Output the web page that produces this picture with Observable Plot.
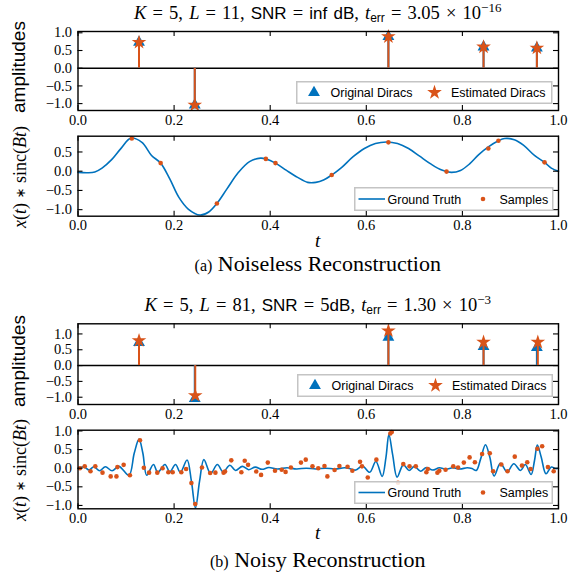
<!DOCTYPE html>
<html><head><meta charset="utf-8">
<script src="https://cdn.jsdelivr.net/npm/d3@7"></script>
<script src="https://cdn.jsdelivr.net/npm/@observablehq/plot@0.6"></script>
<style>
body{margin:0;background:#fff;}
#c{position:relative;width:584px;height:574px;overflow:hidden;background:#fff;}
.panel{position:absolute;left:0;}
.ttl{position:absolute;left:77.5px;width:480.5px;text-align:center;white-space:nowrap;font-family:"Liberation Serif";font-size:18.5px;line-height:20px;color:#000;word-spacing:1.5px;}
.sans{font-family:"Liberation Sans";font-size:17px;}
.ttl sub{font-family:"Liberation Sans";font-size:12px;vertical-align:-3px;line-height:0;}
.ttl sup{font-size:13px;vertical-align:7px;line-height:0;}
.ylab{position:absolute;transform:translate(-50%,-50%) rotate(-90deg);white-space:nowrap;color:#000;line-height:20px;}
.ylab.a{font-family:"Liberation Sans";font-size:19px;}
.ylab.m{font-family:"Liberation Serif";font-size:18px;}
.ylab.m .op{font-family:"DejaVu Sans";font-size:13px;vertical-align:1px;}
.xlab{position:absolute;left:77.5px;width:480.5px;text-align:center;font-family:"Liberation Serif";font-style:italic;font-size:19px;line-height:20px;}
.cap{position:absolute;left:77.5px;width:480.5px;text-align:center;font-family:"Liberation Serif";font-size:22px;line-height:26px;white-space:nowrap;}
.cap small{font-size:16px;}
.leg{position:absolute;}
</style>
</head><body>
<div id="c"></div>
<script>
// ---------- data ----------
const xTicks = [0, 0.2, 0.4, 0.6, 0.8, 1.0];
const yTicksA1 = [-1, -0.5, 0, 0.5, 1];
const yTicksA2 = [-1, -0.5, 0, 0.5];
const yTicksB1 = [-1, -0.5, 0, 0.5, 1];
const yTicksB2 = [-1, -0.5, 0, 0.5, 1];

// Dirac locations and amplitudes
const diracT   = [0.127, 0.243, 0.646, 0.844, 0.955];
const origAmp  = [0.73, -1.04, 0.89, 0.60, 0.57];
// (a) noiseless estimate
const estTA    = [0.127, 0.243, 0.646, 0.844, 0.955];
const estAmpA  = [0.73, -1.04, 0.89, 0.60, 0.57];
// (b) noisy estimate
const estTB    = [0.127, 0.244, 0.646, 0.844, 0.957];
const estAmpB  = [0.79, -0.95, 1.10, 0.74, 0.74];

// (a) samples (L = 11)
const sampTA = [0.112, 0.172, 0.289, 0.391, 0.411, 0.528, 0.646, 0.767, 0.854, 0.875, 0.971];
const sampVA = [0.85, 0.21, -0.84, 0.32, 0.21, -0.10, 0.75, -0.01, 0.59, 0.79, 0.23];

// (a) ground truth curve
const curveTA = [0.000,0.020,0.035,0.050,0.070,0.090,0.110,0.133,0.153,0.172,0.191,0.210,0.230,0.254,0.272,0.289,0.310,0.334,0.357,0.380,0.391,0.411,0.434,0.457,0.478,0.495,0.511,0.528,0.549,0.572,0.596,0.619,0.642,0.665,0.688,0.711,0.734,0.757,0.777,0.796,0.815,0.834,0.854,0.875,0.888,0.908,0.927,0.950,0.971,0.985,1.000];
const curveVA = [-0.03,-0.04,-0.02,0.08,0.30,0.60,0.86,0.75,0.41,0.21,-0.20,-0.68,-0.99,-1.14,-1.06,-0.84,-0.46,-0.03,0.25,0.34,0.32,0.21,0.02,-0.16,-0.29,-0.29,-0.23,-0.10,0.10,0.37,0.59,0.72,0.76,0.72,0.59,0.39,0.19,0.03,-0.03,0.02,0.19,0.43,0.63,0.79,0.85,0.82,0.68,0.41,0.23,0.08,0.00];

// (b) samples (L = 81)
const sampTB = [0.004,0.014,0.026,0.036,0.051,0.068,0.080,0.082,0.095,0.108,0.129,0.137,0.148,0.165,0.176,0.188,0.197,0.215,0.225,0.236,0.244,0.258,0.275,0.286,0.303,0.306,0.319,0.340,0.347,0.354,0.371,0.381,0.395,0.410,0.424,0.432,0.443,0.464,0.474,0.488,0.500,0.513,0.519,0.534,0.544,0.561,0.571,0.587,0.591,0.603,0.621,0.650,0.653,0.666,0.677,0.690,0.703,0.725,0.728,0.748,0.752,0.765,0.781,0.791,0.803,0.815,0.826,0.841,0.857,0.864,0.881,0.894,0.909,0.924,0.935,0.942,0.956,0.966,0.978,0.990];
const sampVB = [0.00,0.05,-0.08,0.05,-0.12,-0.22,-0.22,0.03,0.09,-0.19,0.75,0.01,-0.12,-0.12,0.00,-0.11,-0.11,-0.11,-0.02,-0.40,-0.96,0.02,-0.13,-0.12,-0.12,-0.09,0.21,-0.11,0.20,0.09,-0.09,-0.18,0.15,-0.07,-0.04,-0.10,0.02,0.15,0.23,0.05,0.00,0.06,-0.22,-0.05,0.06,0.04,-0.07,0.17,0.05,-0.25,0.23,0.93,0.97,-0.39,0.11,0.05,0.05,-0.11,-0.02,-0.12,-0.07,-0.04,0.05,0.02,0.15,0.29,0.16,0.38,0.40,-0.08,0.10,-0.08,0.31,0.07,0.16,-0.02,0.52,0.59,0.03,-0.08];

// (b) ground truth curve
const curveTB = [0.000,0.012,0.023,0.033,0.045,0.057,0.071,0.085,0.106,0.117,0.127,0.135,0.143,0.157,0.166,0.181,0.191,0.203,0.213,0.227,0.236,0.2445,0.253,0.262,0.276,0.290,0.302,0.316,0.328,0.342,0.355,0.369,0.383,0.397,0.415,0.435,0.455,0.475,0.495,0.515,0.535,0.555,0.568,0.578,0.592,0.607,0.620,0.633,0.641,0.647,0.655,0.664,0.677,0.689,0.700,0.713,0.725,0.738,0.752,0.766,0.780,0.795,0.810,0.820,0.829,0.838,0.848,0.857,0.866,0.879,0.893,0.907,0.921,0.931,0.943,0.950,0.956,0.964,0.974,0.985,0.994,1.000];
const curveVB = [-0.01,0.04,-0.05,0.04,-0.07,0.04,-0.07,0.05,-0.19,0.40,0.78,0.40,-0.19,0.10,-0.11,0.10,-0.10,0.10,-0.11,0.22,-0.35,-1.07,-0.35,0.23,-0.14,0.10,-0.10,0.08,-0.06,0.05,-0.04,0.03,-0.03,0.02,-0.02,0.01,-0.02,0.00,-0.02,0.00,-0.02,0.01,-0.02,-0.05,0.06,-0.11,0.18,-0.22,0.30,0.90,0.35,-0.24,0.09,-0.06,0.05,-0.08,0.02,-0.05,0.01,-0.03,0.01,-0.02,0.01,-0.01,-0.06,0.25,0.63,0.30,-0.21,0.13,-0.10,0.12,-0.06,0.10,-0.17,0.20,0.62,0.30,-0.15,0.03,-0.01,0.00];

// ---------- build tables ----------
const zip = (ts, vs) => ts.map((t, i) => ({t, v: vs[i]}));
const origTbl = zip(diracT, origAmp);
const estTblA = zip(estTA, estAmpA);
const estTblB = zip(estTB, estAmpB);
const sampA = zip(sampTA, sampVA), sampB = zip(sampTB, sampVB);
const curveA = zip(curveTA, curveVA), curveB = zip(curveTB, curveVB);

const BLUE = "#0072BD", ORANGE = "#D95319";
const ML = 77.5, MR = 26, W = 584;
const root = document.getElementById("c");

function panel(cfg) {
  const fw = W - ML - MR, fh = cfg.H - cfg.mt - cfg.mb;
  const fmt = d3.format(".1f");
  const tk = {stroke: "black", strokeWidth: 1.1};
  const svg = Plot.plot({
    width: W, height: cfg.H,
    marginLeft: ML, marginRight: MR, marginTop: cfg.mt, marginBottom: cfg.mb,
    x: {domain: [0, 1]},
    y: {domain: cfg.ydom},
    style: {background: "transparent", overflow: "visible", fontFamily: "Liberation Serif", fontSize: "14.5px", color: "black"},
    marks: [
      ...cfg.marks,
      Plot.tickX(xTicks, {x: d => d, ...tk, insetBottom: fh - 5}),
      Plot.tickX(xTicks, {x: d => d, ...tk, insetTop: fh - 5}),
      Plot.tickY(cfg.yticks, {y: d => d, ...tk, insetRight: fw - 5}),
      Plot.tickY(cfg.yticks, {y: d => d, ...tk, insetLeft: fw - 5}),
      Plot.axisX({ticks: xTicks, tickSize: 0, tickPadding: 4, tickFormat: fmt, label: null}),
      Plot.axisY({ticks: cfg.yticks, tickSize: 0, tickPadding: 6, tickFormat: fmt, label: null}),
      Plot.frame({stroke: "black", strokeWidth: 1.4})
    ]
  });
  svg.classList.add("panel");
  svg.style.position = "absolute";
  svg.style.top = cfg.top + "px";
  svg.style.left = "0px";
  root.appendChild(svg);
}

function stemMarks(est) {
  return [
    Plot.ruleY([0], {stroke: "black", strokeWidth: 1.4}),
    Plot.ruleX(origTbl, {x: "t", y1: 0, y2: "v", stroke: BLUE, strokeWidth: 2}),
    Plot.dot(origTbl, {x: "t", y: "v", symbol: "triangle", fill: BLUE, r: 4.4}),
    Plot.ruleX(est, {x: "t", y1: 0, y2: "v", stroke: ORANGE, strokeWidth: 2}),
    Plot.dot(est, {x: "t", y: "v", symbol: "star", fill: ORANGE, r: 4.6})
  ];
}
function curveMarks(curve, samp) {
  return [
    Plot.line(curve, {x: "t", y: "v", stroke: BLUE, strokeWidth: 1.6, curve: "catmull-rom"}),
    Plot.dot(samp, {x: "t", y: "v", fill: ORANGE, r: 2.3})
  ];
}

panel({top: 20, H: 115, mt: 11, mb: 25, ydom: [-1.195, 1.037], yticks: yTicksA1, marks: stemMarks(estTblA)});
panel({top: 130, H: 108, mt: 5.7, mb: 22.3, ydom: [-1.17, 0.91], yticks: yTicksA2, marks: curveMarks(curveA, sampA)});
panel({top: 318, H: 108, mt: 5.3, mb: 22, ydom: [-1.23, 1.32], yticks: yTicksB1, marks: stemMarks(estTblB)});
panel({top: 424, H: 106.3, mt: 5.7, mb: 22, ydom: [-1.09, 1.02], yticks: yTicksB2, marks: curveMarks(curveB, sampB)});

// ---------- legends ----------
const triPath = d3.symbol(d3.symbolTriangle, 4.4 * 4.4 * Math.PI)();
const starPath = d3.symbol(d3.symbolStar, 4.6 * 4.6 * Math.PI)();
function legendBox(left, top, w, h, inner) {
  const d = document.createElement("div");
  d.className = "leg";
  d.style.left = left + "px"; d.style.top = top + "px";
  d.innerHTML = `<svg width="${w}" height="${h}" style="display:block;overflow:visible">
    <rect x="0.75" y="0.75" width="${w - 1.5}" height="${h - 1.5}" fill="rgba(255,255,255,0.85)" stroke="#c4c4c4" stroke-width="1.5"/>
    <g font-family="Liberation Sans" font-size="12.5" fill="#000">${inner(h / 2)}</g></svg>`;
  root.appendChild(d);
}
const diracLegend = cy => `
  <path d="${triPath}" transform="translate(18,${cy})" fill="${BLUE}"/>
  <text x="34.5" y="${cy}" dy="0.36em">Original Diracs</text>
  <path d="${starPath}" transform="translate(138.5,${cy})" fill="${ORANGE}"/>
  <text x="155" y="${cy}" dy="0.36em">Estimated Diracs</text>`;
const sampLegend = cy => `
  <line x1="4.5" x2="31" y1="${cy}" y2="${cy}" stroke="${BLUE}" stroke-width="1.6"/>
  <text x="33.5" y="${cy}" dy="0.36em">Ground Truth</text>
  <circle cx="129" cy="${cy}" r="2.3" fill="${ORANGE}"/>
  <text x="145.5" y="${cy}" dy="0.36em">Samples</text>`;
legendBox(296, 81, 256.5, 23, diracLegend);
legendBox(353.5, 187, 199.5, 24, sampLegend);
legendBox(297, 374, 256, 23, diracLegend);
legendBox(354, 480.5, 199, 23, sampLegend);

// ---------- text ----------
function add(html) { root.insertAdjacentHTML("beforeend", html); }
add(`<div class="ttl" style="top:3px"><i>K</i> = 5, <i>L</i> = 11, <span class="sans">SNR</span> = <span class="sans">inf dB</span>, <i>t</i><sub>err</sub> = 3.05 × 10<sup>−16</sup></div>`);
add(`<div class="ttl" style="top:295px"><i>K</i> = 5, <i>L</i> = 81, <span class="sans">SNR</span> = 5<span class="sans">dB</span>, <i>t</i><sub>err</sub> = 1.30 × 10<sup>−3</sup></div>`);
add(`<div class="ylab a" style="left:19px;top:67px">amplitudes</div>`);
add(`<div class="ylab a" style="left:19px;top:361px">amplitudes</div>`);
add(`<div class="ylab m" style="left:20px;top:177px"><i>x</i>(<i>t</i>) <span class="op">∗</span> sinc(<i>Bt</i>)</div>`);
add(`<div class="ylab m" style="left:20px;top:470px"><i>x</i>(<i>t</i>) <span class="op">∗</span> sinc(<i>Bt</i>)</div>`);
add(`<div class="xlab" style="top:230.7px">t</div>`);
add(`<div class="xlab" style="top:523.3px">t</div>`);
add(`<div class="cap" style="top:250.5px"><small>(a)</small> Noiseless Reconstruction</div>`);
add(`<div class="cap" style="top:547px"><small>(b)</small> Noisy Reconstruction</div>`);
</script>
</body></html>
